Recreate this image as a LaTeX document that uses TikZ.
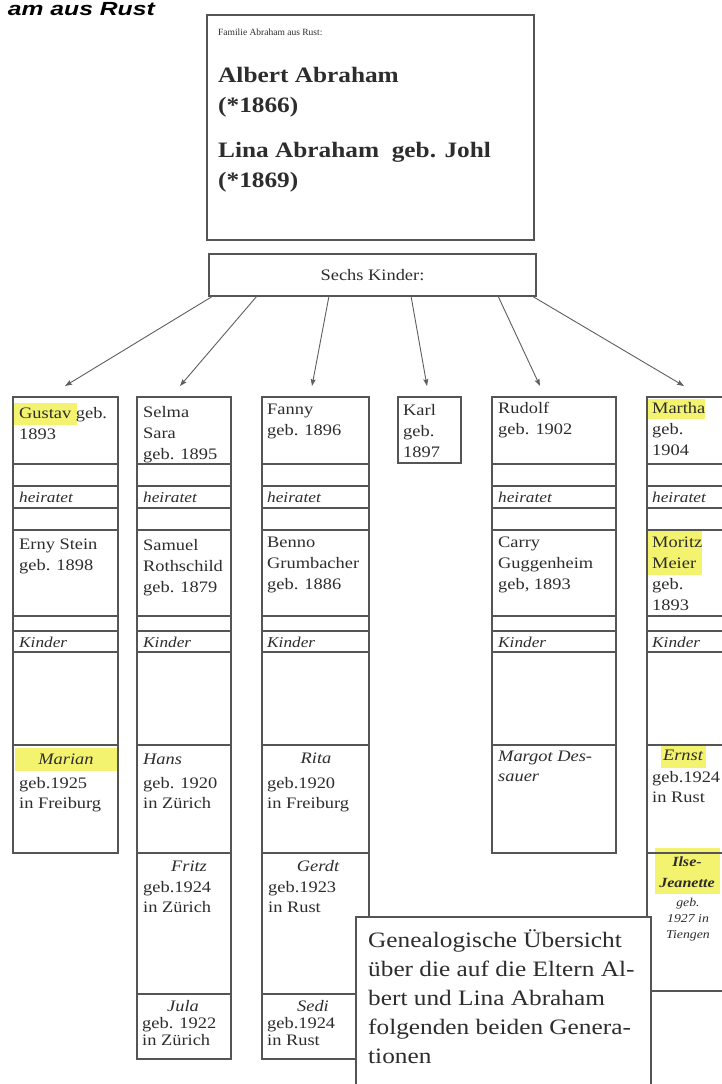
\documentclass[tikz,border=0pt]{standalone}
\usepackage{fontspec}
\setmainfont{Liberation Serif}[FakeStretch=1.15]
\newfontfamily\plainserif{Liberation Serif}
\newfontfamily\titlefont{Liberation Sans}[FakeStretch=1.3]
\usetikzlibrary{arrows.meta}
\definecolor{linec}{RGB}{85,85,85}
\definecolor{textc}{RGB}{45,45,45}
\definecolor{arrc}{RGB}{95,95,95}
\definecolor{hl}{RGB}{243,243,112}
\tikzset{
  cellbox/.style={draw=linec, line width=1.1pt, inner sep=0pt, outer sep=0pt, anchor=north west},
  txt/.style={inner sep=0pt, anchor=north west, align=left, text=textc, font=\fontsize{16}{21}\selectfont},
  lab/.style={inner sep=0pt, anchor=west, text=textc, font=\itshape\fontsize{15}{18}\selectfont},
  kid/.style={inner sep=0pt, anchor=center, text=textc, font=\itshape\fontsize{16}{20}\selectfont},
  arr/.style={draw=arrc, line width=0.9pt, -{Stealth[length=7pt,width=5pt,inset=1pt]}},
}
\newcommand\famcol[3]{%
  \foreach \i/\t/\b in {1/397/464,2/464/486,3/486/508,4/508/530,5/530/616,6/616/631,7/631/652,8/652/745,9/745/853}{%
    \node[cellbox, minimum width=#3, minimum height=\b-\t] (#1\i) at (#2,\t) {};}}
\begin{document}
\begin{tikzpicture}[x=1pt,y=-1pt]
\useasboundingbox (0,0) rectangle (722,1084);
\fill[white] (0,0) rectangle (722,1084);
\begin{scope}
\clip (0,0) rectangle (722,1084);
% title
\node[anchor=base east, inner sep=0pt, text=black, font=\titlefont\bfseries\itshape\fontsize{19}{23}\selectfont] (title) at (155,15) {am aus Rust};

% parents box
\node[cellbox, minimum width=327, minimum height=225] (parents) at (207,15) {};
\node[txt, font=\plainserif\fontsize{9.5}{11}\selectfont] (fam) at (218,29) {Familie Abraham aus Rust:};
\node[txt, font=\bfseries\fontsize{22}{30}\selectfont] (albert) at (218,67) {Albert Abraham\\(*1866)};
\node[txt, font=\bfseries\fontsize{22}{30}\selectfont] (lina) at (218,142) {Lina Abraham\ \ geb. Johl\\(*1869)};

% six children box
\node[cellbox, minimum width=327, minimum height=42, font=\fontsize{16}{20}\selectfont, text=textc] (sechs) at (209,254) {Sechs Kinder:};

% arrows
\coordinate (s1) at (213,296); \coordinate (e1) at (65,386);
\coordinate (s2) at (257,296); \coordinate (e2) at (180,386);
\coordinate (s3) at (329,296); \coordinate (e3) at (312,386);
\coordinate (s4) at (411,296); \coordinate (e4) at (427,386);
\coordinate (s5) at (498,296); \coordinate (e5) at (540,386);
\coordinate (s6) at (532,296); \coordinate (e6) at (684,386);
\foreach \k in {1,...,6}{\draw[arr] (s\k) -- (e\k);}

% highlights
\fill[hl] (14,403) rectangle (77,425);
\fill[hl] (647,399) rectangle (705,419);
\fill[hl] (647,531) rectangle (702,575);
\fill[hl] (15,748) rectangle (117,771);
\fill[hl] (661,744) rectangle (706,768);
\fill[hl] (655,848) rectangle (720,894);

% columns
\famcol{g}{13}{105}
\famcol{s}{137}{94}
\famcol{f}{262}{107}
\famcol{r}{492}{124}
\famcol{m}{647}{85}
\node[cellbox, minimum width=94, minimum height=141] (s10) at (137,853) {};
\node[cellbox, minimum width=94, minimum height=65] (s11) at (137,994) {};
\node[cellbox, minimum width=107, minimum height=141] (f10) at (262,853) {};
\node[cellbox, minimum width=107, minimum height=65] (f11) at (262,994) {};
\node[cellbox, minimum width=85, minimum height=138] (m10) at (647,853) {};
\node[cellbox, minimum width=85, minimum height=110] (m11) at (647,991) {};
\node[cellbox, minimum width=63, minimum height=66] (karl) at (398,397) {};

% first row texts
\node[txt] (tg1) at (19,407) {Gustav geb.\\1893};
\node[txt] (ts1) at (143,406) {Selma\\Sara\\geb. 1895};
\node[txt] (tf1) at (267,404) {Fanny\\geb. 1896};
\node[txt] (tk1) at (403,404) {Karl\\geb.\\1897};
\node[txt] (tr1) at (498,402) {Rudolf\\geb. 1902};
\node[txt] (tm1) at (652,402) {Martha\\geb.\\1904};

% heiratet / Kinder
\foreach \x/\n in {19/g,143/s,267/f,498/r,652/m}{
  \node[lab] (h\n) at (\x,497) {heiratet};
  \node[lab] (k\n) at (\x,642) {Kinder};
}

% spouses
\node[txt] (tg5) at (19,539) {Erny Stein\\geb. 1898};
\node[txt] (ts5) at (143,539) {Samuel\\Rothschild\\geb. 1879};
\node[txt] (tf5) at (267,537) {Benno\\Grumbacher\\geb. 1886};
\node[txt] (tr5) at (498,537) {Carry\\Guggenheim\\geb, 1893};
\node[txt] (tm5) at (652,537) {Moritz\\Meier\\geb.\\1893};

% grandchildren
\node[kid] (marian) at (66,759) {Marian};
\node[txt, font=\fontsize{16}{20}\selectfont] (marianb) at (19,777) {geb.1925\\in Freiburg};
\node[kid, anchor=west] (hans) at (143,759) {Hans};
\node[txt, font=\fontsize{16}{20}\selectfont] (hansb) at (143,777) {geb. 1920\\in Zürich};
\node[kid] (rita) at (316,758) {Rita};
\node[txt, font=\fontsize{16}{20}\selectfont] (ritab) at (267,777) {geb.1920\\in Freiburg};
\node[txt, font=\itshape\fontsize{16}{20}\selectfont] (margot) at (498,751) {Margot Des-\\sauer};
\node[kid] (ernst) at (683,755) {Ernst};
\node[txt, font=\fontsize{16}{20}\selectfont] (ernstb) at (652,771) {geb.1924\\in Rust};
\node[kid] (fritz) at (189,866) {Fritz};
\node[txt, font=\fontsize{16}{20}\selectfont] (fritzb) at (143,881) {geb.1924\\in Zürich};
\node[kid] (gerdt) at (318,866) {Gerdt};
\node[txt, font=\fontsize{16}{20}\selectfont] (gerdtb) at (268,881) {geb.1923\\in Rust};
\node[kid] (jula) at (183,1006) {Jula};
\node[txt, font=\fontsize{16}{17}\selectfont] (julab) at (142,1017) {geb. 1922\\in Zürich};
\node[kid] (sedi) at (313,1006) {Sedi};
\node[txt, font=\fontsize{16}{17}\selectfont] (sedib) at (267,1017) {geb.1924\\in Rust};
\node[inner sep=0pt, align=center, text=textc, font=\bfseries\itshape\fontsize{14}{21}\selectfont] (ilse) at (687,872) {Ilse-\\Jeanette};
\node[inner sep=0pt, align=center, text=textc, font=\itshape\fontsize{12}{16}\selectfont] (ilseb) at (688,920) {geb.\\1927 in\\Tiengen};

% note box
\node[cellbox, fill=white, minimum width=295, minimum height=180] (note) at (356,917) {};
\node[txt, font=\fontsize{22}{29}\selectfont] (notetext) at (368,929) {Genealogische Übersicht\\über die auf die Eltern Al-\\bert und Lina Abraham\\folgenden beiden Genera-\\tionen};
\end{scope}
\end{tikzpicture}
\end{document}
